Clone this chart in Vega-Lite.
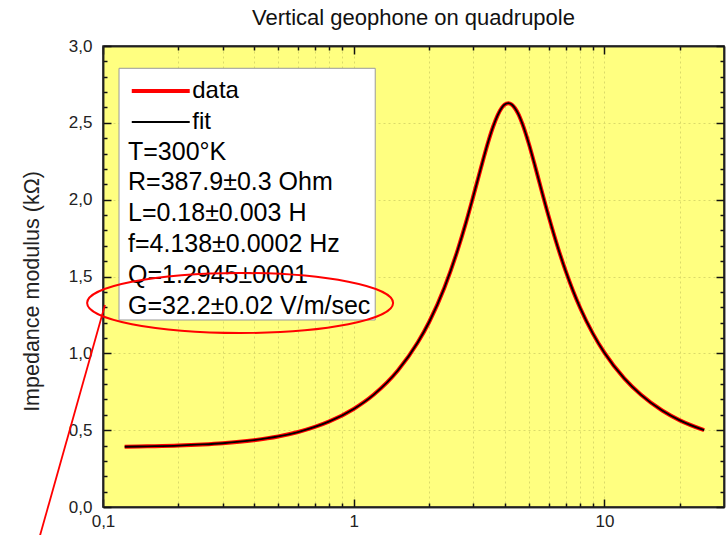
{
  "$schema": "https://vega.github.io/schema/vega-lite/v6.json",
  "width": 621,
  "height": 461,
  "autosize": "none",
  "padding": {"left": 103, "top": 46, "right": 4, "bottom": 28},
  "background": "white",
  "title": {"text": "Vertical geophone on quadrupole", "font": "Liberation Sans", "fontSize": 22, "fontWeight": "normal", "color": "#111", "anchor": "middle", "offset": 7},
  "datasets": {
    "curve": [
      {"f": 0.122, "z": 0.392, "series": "data"}, {"f": 0.15, "z": 0.395, "series": "data"}, {"f": 0.2, "z": 0.400, "series": "data"},
      {"f": 0.25, "z": 0.407, "series": "data"}, {"f": 0.3, "z": 0.415, "series": "data"}, {"f": 0.4, "z": 0.435, "series": "data"},
      {"f": 0.5, "z": 0.459, "series": "data"}, {"f": 0.6, "z": 0.488, "series": "data"}, {"f": 0.7, "z": 0.521, "series": "data"},
      {"f": 0.8, "z": 0.557, "series": "data"}, {"f": 1.0, "z": 0.638, "series": "data"}, {"f": 1.2, "z": 0.730, "series": "data"},
      {"f": 1.5, "z": 0.888, "series": "data"}, {"f": 1.8, "z": 1.070, "series": "data"}, {"f": 2.0, "z": 1.204, "series": "data"},
      {"f": 2.3, "z": 1.427, "series": "data"}, {"f": 2.6, "z": 1.674, "series": "data"}, {"f": 2.8, "z": 1.847, "series": "data"},
      {"f": 3.0, "z": 2.023, "series": "data"}, {"f": 3.15, "z": 2.151, "series": "data"}, {"f": 3.3, "z": 2.273, "series": "data"},
      {"f": 3.45, "z": 2.383, "series": "data"}, {"f": 3.6, "z": 2.476, "series": "data"}, {"f": 3.75, "z": 2.549, "series": "data"},
      {"f": 3.9, "z": 2.599, "series": "data"}, {"f": 4.0, "z": 2.619, "series": "data"}, {"f": 4.138, "z": 2.628, "series": "data"},
      {"f": 4.27, "z": 2.619, "series": "data"}, {"f": 4.4, "z": 2.595, "series": "data"}, {"f": 4.55, "z": 2.553, "series": "data"},
      {"f": 4.7, "z": 2.497, "series": "data"}, {"f": 5.0, "z": 2.362, "series": "data"}, {"f": 5.25, "z": 2.238, "series": "data"},
      {"f": 5.5, "z": 2.115, "series": "data"}, {"f": 6.0, "z": 1.889, "series": "data"}, {"f": 6.5, "z": 1.697, "series": "data"},
      {"f": 7.0, "z": 1.538, "series": "data"}, {"f": 7.5, "z": 1.406, "series": "data"}, {"f": 8.0, "z": 1.297, "series": "data"},
      {"f": 9.0, "z": 1.128, "series": "data"}, {"f": 10.0, "z": 1.004, "series": "data"}, {"f": 12.0, "z": 0.837, "series": "data"},
      {"f": 14.0, "z": 0.730, "series": "data"}, {"f": 17.0, "z": 0.628, "series": "data"}, {"f": 20.0, "z": 0.564, "series": "data"},
      {"f": 25.0, "z": 0.500, "series": "data"},
      {"f": 0.122, "z": 0.392, "series": "fit"}, {"f": 0.15, "z": 0.395, "series": "fit"}, {"f": 0.2, "z": 0.400, "series": "fit"},
      {"f": 0.25, "z": 0.407, "series": "fit"}, {"f": 0.3, "z": 0.415, "series": "fit"}, {"f": 0.4, "z": 0.435, "series": "fit"},
      {"f": 0.5, "z": 0.459, "series": "fit"}, {"f": 0.6, "z": 0.488, "series": "fit"}, {"f": 0.7, "z": 0.521, "series": "fit"},
      {"f": 0.8, "z": 0.557, "series": "fit"}, {"f": 1.0, "z": 0.638, "series": "fit"}, {"f": 1.2, "z": 0.730, "series": "fit"},
      {"f": 1.5, "z": 0.888, "series": "fit"}, {"f": 1.8, "z": 1.070, "series": "fit"}, {"f": 2.0, "z": 1.204, "series": "fit"},
      {"f": 2.3, "z": 1.427, "series": "fit"}, {"f": 2.6, "z": 1.674, "series": "fit"}, {"f": 2.8, "z": 1.847, "series": "fit"},
      {"f": 3.0, "z": 2.023, "series": "fit"}, {"f": 3.15, "z": 2.151, "series": "fit"}, {"f": 3.3, "z": 2.273, "series": "fit"},
      {"f": 3.45, "z": 2.383, "series": "fit"}, {"f": 3.6, "z": 2.476, "series": "fit"}, {"f": 3.75, "z": 2.549, "series": "fit"},
      {"f": 3.9, "z": 2.599, "series": "fit"}, {"f": 4.0, "z": 2.619, "series": "fit"}, {"f": 4.138, "z": 2.628, "series": "fit"},
      {"f": 4.27, "z": 2.619, "series": "fit"}, {"f": 4.4, "z": 2.595, "series": "fit"}, {"f": 4.55, "z": 2.553, "series": "fit"},
      {"f": 4.7, "z": 2.497, "series": "fit"}, {"f": 5.0, "z": 2.362, "series": "fit"}, {"f": 5.25, "z": 2.238, "series": "fit"},
      {"f": 5.5, "z": 2.115, "series": "fit"}, {"f": 6.0, "z": 1.889, "series": "fit"}, {"f": 6.5, "z": 1.697, "series": "fit"},
      {"f": 7.0, "z": 1.538, "series": "fit"}, {"f": 7.5, "z": 1.406, "series": "fit"}, {"f": 8.0, "z": 1.297, "series": "fit"},
      {"f": 9.0, "z": 1.128, "series": "fit"}, {"f": 10.0, "z": 1.004, "series": "fit"}, {"f": 12.0, "z": 0.837, "series": "fit"},
      {"f": 14.0, "z": 0.730, "series": "fit"}, {"f": 17.0, "z": 0.628, "series": "fit"}, {"f": 20.0, "z": 0.564, "series": "fit"},
      {"f": 25.0, "z": 0.500, "series": "fit"}
    ],
    "box": [{"f": 0.11586, "f2": 1.2186, "z": 1.217, "z2": 2.855}],
    "params": [
      {"f": 0.1258, "z": 2.312, "label": "T=300°K"},
      {"f": 0.1258, "z": 2.112, "label": "R=387.9±0.3 Ohm"},
      {"f": 0.1258, "z": 1.911, "label": "L=0.18±0.003 H"},
      {"f": 0.1258, "z": 1.711, "label": "f=4.138±0.0002 Hz"},
      {"f": 0.1258, "z": 1.510, "label": "Q=1.2945±0001"},
      {"f": 0.1258, "z": 1.310, "label": "G=32.2±0.02 V/m/sec"}
    ],
    "ellipse": [{"f": 0.3523, "z": 1.3275}],
    "pointer": [{"f": 0.1018, "z": 1.3145, "f2": 0.054, "z2": -0.28}]
  },
  "resolve": {"axis": {"x": "independent", "y": "independent"}},
  "layer": [
    {
      "data": {"name": "curve"},
      "mark": {"type": "line", "strokeOpacity": 0},
      "encoding": {
        "x": {"field": "f", "type": "quantitative", "scale": {"type": "log", "domain": [0.1, 30]},
          "axis": {"orient": "bottom", "title": null, "values": [0.2, 0.3, 0.4, 0.5, 0.6, 0.7, 0.8, 0.9, 2, 3, 4, 5, 6, 7, 8, 9, 20], "labels": false, "tickSize": -4, "grid": true, "domain": true}},
        "y": {"field": "z", "type": "quantitative", "scale": {"domain": [0, 3]},
          "axis": {"orient": "left", "title": null, "values": [0.1, 0.2, 0.3, 0.4, 0.6, 0.7, 0.8, 0.9, 1.1, 1.2, 1.3, 1.4, 1.6, 1.7, 1.8, 1.9, 2.1, 2.2, 2.3, 2.4, 2.6, 2.7, 2.8, 2.9], "labels": false, "tickSize": -4, "grid": false, "domain": true}}
      }
    },
    {
      "data": {"name": "curve"},
      "mark": {"type": "line", "strokeOpacity": 0},
      "encoding": {
        "x": {"field": "f", "type": "quantitative", "scale": {"type": "log", "domain": [0.1, 30]},
          "axis": {"orient": "top", "title": null, "values": [0.2, 0.3, 0.4, 0.5, 0.6, 0.7, 0.8, 0.9, 2, 3, 4, 5, 6, 7, 8, 9, 20], "labels": false, "tickSize": -4, "grid": false, "domain": true}},
        "y": {"field": "z", "type": "quantitative", "scale": {"domain": [0, 3]},
          "axis": {"orient": "right", "title": null, "values": [0.1, 0.2, 0.3, 0.4, 0.6, 0.7, 0.8, 0.9, 1.1, 1.2, 1.3, 1.4, 1.6, 1.7, 1.8, 1.9, 2.1, 2.2, 2.3, 2.4, 2.6, 2.7, 2.8, 2.9], "labels": false, "tickSize": -4, "grid": false, "domain": true}}
      }
    },
    {
      "data": {"name": "curve"},
      "mark": {"type": "line", "strokeOpacity": 0},
      "encoding": {
        "x": {"field": "f", "type": "quantitative", "scale": {"type": "log", "domain": [0.1, 30]},
          "axis": {"orient": "top", "title": null, "values": [0.1, 1, 10], "labels": false, "tickSize": -8, "grid": false, "domain": true}},
        "y": {"field": "z", "type": "quantitative", "scale": {"domain": [0, 3]},
          "axis": {"orient": "right", "title": null, "values": [0, 0.5, 1, 1.5, 2, 2.5, 3], "labels": false, "tickSize": -8, "grid": false, "domain": true}}
      }
    },
    {
      "data": {"name": "curve"},
      "mark": {"type": "line", "strokeOpacity": 0},
      "encoding": {
        "x": {"field": "f", "type": "quantitative", "scale": {"type": "log", "domain": [0.1, 30]},
          "axis": {"orient": "bottom", "title": null, "values": [0.1, 1, 10], "tickSize": -8, "labelPadding": 14, "labelFlush": false, "labelOverlap": false, "grid": true, "domain": true,
            "labelExpr": "datum.value < 0.5 ? '0,1' : datum.value < 5 ? '1' : '10'"}},
        "y": {"field": "z", "type": "quantitative", "scale": {"domain": [0, 3]},
          "axis": {"orient": "left", "title": "Impedance modulus (kΩ)", "values": [0, 0.5, 1, 1.5, 2, 2.5, 3], "tickSize": -8, "labelPadding": 19, "labelFlush": false, "labelOverlap": false, "grid": true, "domain": true,
            "labelExpr": "replace(format(datum.value, '.1f'), '.', ',')",
            "titleX": -71, "titleY": 245, "titleAngle": -90, "titleAlign": "center", "titleBaseline": "middle"}}
      }
    },
    {
      "data": {"name": "box"},
      "mark": {"type": "rect", "fill": "white", "stroke": "#9a9a9a", "strokeWidth": 1},
      "encoding": {
        "x": {"field": "f", "type": "quantitative", "scale": {"type": "log", "domain": [0.1, 30]}, "axis": null},
        "x2": {"field": "f2"},
        "y": {"field": "z", "type": "quantitative", "scale": {"domain": [0, 3]}, "axis": null},
        "y2": {"field": "z2"}
      }
    },
    {
      "data": {"name": "curve"},
      "mark": {"type": "line", "interpolate": "monotone"},
      "encoding": {
        "x": {"field": "f", "type": "quantitative", "scale": {"type": "log", "domain": [0.1, 30]}, "axis": null},
        "y": {"field": "z", "type": "quantitative", "scale": {"domain": [0, 3]}, "axis": null},
        "stroke": {
          "field": "series", "type": "nominal",
          "scale": {"domain": ["data", "fit"], "range": ["#ff0000", "#000000"]},
          "legend": {"orient": "none", "legendX": 45.75, "legendY": 33, "title": null, "symbolType": "M-4,0H4", "symbolSize": 210, "labelFontSize": 24, "labelFont": "Liberation Sans", "labelColor": "#000", "labelOffset": 19.5, "rowPadding": 7, "padding": 0, "symbolFillColor": "transparent"}
        },
        "strokeWidth": {
          "field": "series", "type": "nominal",
          "scale": {"domain": ["data", "fit"], "range": [4, 1.8]},
          "legend": {"orient": "none", "legendX": 45.75, "legendY": 33, "title": null, "symbolType": "M-4,0H4", "symbolSize": 210, "labelFontSize": 24, "labelFont": "Liberation Sans", "labelColor": "#000", "labelOffset": 19.5, "rowPadding": 7, "padding": 0, "symbolFillColor": "transparent"}
        },
        "order": {"field": "series", "sort": "ascending"}
      }
    },
    {
      "data": {"name": "params"},
      "mark": {"type": "text", "align": "left", "baseline": "middle", "font": "Liberation Sans", "fontSize": 25, "color": "#000"},
      "encoding": {
        "x": {"field": "f", "type": "quantitative", "scale": {"type": "log", "domain": [0.1, 30]}, "axis": null},
        "y": {"field": "z", "type": "quantitative", "scale": {"domain": [0, 3]}, "axis": null},
        "text": {"field": "label"}
      }
    },
    {
      "data": {"name": "ellipse"},
      "mark": {"type": "point", "shape": "M-1,0C-1,-0.1084,-0.5523,-0.1961,0,-0.1961C0.5523,-0.1961,1,-0.1084,1,0C1,0.1084,0.5523,0.1961,0,0.1961C-0.5523,0.1961,-1,0.1084,-1,0Z", "size": 93636, "filled": false, "stroke": "#ff0000", "strokeWidth": 2, "opacity": 1, "clip": false},
      "encoding": {
        "x": {"field": "f", "type": "quantitative", "scale": {"type": "log", "domain": [0.1, 30]}, "axis": null},
        "y": {"field": "z", "type": "quantitative", "scale": {"domain": [0, 3]}, "axis": null}
      }
    },
    {
      "data": {"name": "pointer"},
      "mark": {"type": "rule", "color": "#ff0000", "strokeWidth": 1.8, "clip": false},
      "encoding": {
        "x": {"field": "f", "type": "quantitative", "scale": {"type": "log", "domain": [0.1, 30]}, "axis": null},
        "x2": {"field": "f2"},
        "y": {"field": "z", "type": "quantitative", "scale": {"domain": [0, 3]}, "axis": null},
        "y2": {"field": "z2"}
      }
    }
  ],
  "config": {
    "view": {"fill": "#ffff80", "stroke": "#222222", "strokeWidth": 1.5},
    "axis": {
      "labelFont": "Liberation Sans", "labelFontSize": 17, "labelColor": "#222222",
      "titleFont": "Liberation Sans", "titleFontSize": 21.5, "titleFontWeight": "normal", "titleColor": "#222222",
      "domainColor": "#222222", "domainWidth": 1.5,
      "tickColor": "#111111", "tickWidth": 1.5,
      "gridColor": "#dada6a", "gridDash": [2, 3], "gridWidth": 1
    }
  }
}
